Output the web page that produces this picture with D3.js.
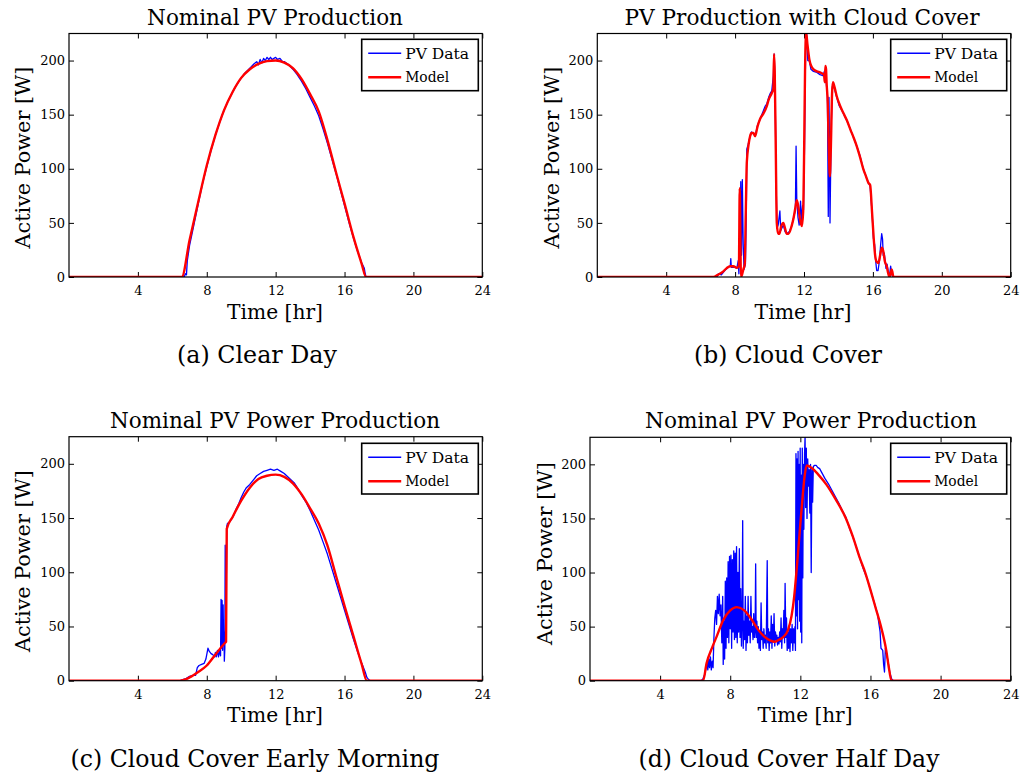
<!DOCTYPE html>
<html><head><meta charset="utf-8">
<script src="https://cdn.jsdelivr.net/npm/d3@7"></script>
<style>
body{margin:0;background:#fff}
svg{display:block}
text{font-family:"DejaVu Serif","Liberation Serif",serif;fill:#000}
</style></head>
<body><svg id="chart" width="1021" height="774"></svg>
<script>
// ---------- data ----------
const xTicks = [4, 8, 12, 16, 20, 24];
const yTicks = [0, 50, 100, 150, 200];
const xDomain = [0, 24];
const yDomain = [0, 225];
const legendLabels = ["PV Data", "Model"];
const titles = ["Nominal PV Production", "PV Production with Cloud Cover", "Nominal PV Power Production", "Nominal PV Power Production"];
const captions = ["(a) Clear Day", "(b) Cloud Cover", "(c) Cloud Cover Early Morning", "(d) Cloud Cover Half Day"];
const xLabel = "Time [hr]";
const yLabel = "Active Power [W]";

// [hour, watts]
const clearDayData = [[0,0],[6.7,0],[6.75,3],[6.82,2],[6.87,15],[7.0,29],[7.25,48],[7.5,67],[7.75,86],[8.0,102],[8.25,117],[8.5,131],[8.75,143],[9.0,154],[9.25,163],[9.5,171],[9.75,178],[10.0,184],[10.25,189],[10.5,193],[10.75,197],[10.9,199],[11.0,196],[11.1,201],[11.2,198],[11.3,202],[11.4,200],[11.5,203],[11.6,201],[11.7,203],[11.8,201],[11.9,202],[12.0,203],[12.1,201],[12.25,202],[12.4,199],[12.5,199],[12.75,196],[13.0,192],[13.25,187],[13.5,181],[13.75,174],[14.0,166],[14.25,158],[14.5,149],[14.75,137],[15.0,124],[15.25,110],[15.5,96],[15.75,81],[16.0,66],[16.25,51],[16.5,37],[16.75,24],[17.0,13],[17.15,8],[17.2,3],[17.25,0],[24,0]];
const clearDayModel = [[0,0],[6.55,0],[7.0,34],[7.5,69],[8.0,103],[8.5,131],[9.0,154],[9.5,171],[10.0,184],[10.5,192],[11.0,197],[11.5,199.5],[12.0,200],[12.5,198],[13.0,193],[13.5,183],[14.0,169],[14.5,153],[15.0,127],[15.5,97],[16.0,68],[16.5,38],[17.0,12],[17.25,0],[24,0]];

const cloudCoverData = [[0,0],[6.95,0],[7.03,3],[7.2,2],[7.4,6],[7.6,9],[7.72,10],[7.75,17],[7.78,9],[8.0,9],[8.1,8],[8.18,15],[8.22,3],[8.28,40],[8.33,88],[8.37,20],[8.42,90],[8.47,30],[8.52,7],[8.6,12],[8.65,60],[8.68,118],[8.75,122],[8.87,130],[8.95,134],[9.06,133],[9.16,130],[9.3,140],[9.45,146],[9.6,152],[9.75,158],[9.84,160],[9.95,166],[10.05,170],[10.13,172],[10.22,186],[10.27,206],[10.32,175],[10.38,90],[10.43,45],[10.5,48],[10.6,61],[10.65,43],[10.8,48],[10.9,42],[11.0,40],[11.15,42],[11.28,47],[11.4,55],[11.5,62],[11.54,121],[11.58,72],[11.65,55],[11.72,48],[11.8,70],[11.85,52],[11.92,66],[11.97,62],[12.03,120],[12.1,220],[12.15,226],[12.22,200],[12.31,200],[12.4,192],[12.55,190],[12.75,189],[12.93,187],[13.1,186],[13.18,190],[13.25,189],[13.3,178],[13.36,168],[13.41,56],[13.45,166],[13.48,120],[13.51,50],[13.58,140],[13.65,176],[13.72,178],[13.8,172],[13.9,166],[14.05,158],[14.2,154],[14.35,149],[14.48,145],[14.7,136],[14.9,128],[15.06,121],[15.25,112],[15.44,100],[15.6,93],[15.74,87],[15.84,84],[15.95,60],[16.03,36],[16.1,30],[16.16,15],[16.22,6],[16.3,6],[16.38,15],[16.45,30],[16.51,40],[16.56,35],[16.6,20],[16.66,22],[16.71,15],[16.76,8],[16.82,12],[16.9,4],[16.97,2],[17.03,10],[17.09,3],[17.15,0],[24,0]];
const cloudCoverModel = [[0,0],[6.74,0],[7.0,2],[7.3,5],[7.5,8],[7.71,10],[7.9,10],[8.1,8.5],[8.22,10],[8.27,82],[8.31,30],[8.34,0],[8.4,2],[8.48,7],[8.56,12],[8.62,60],[8.68,106],[8.78,122],[8.87,130],[8.95,133],[9.06,133],[9.16,130],[9.3,139],[9.45,146],[9.64,151],[9.84,158],[9.95,164],[10.13,170],[10.22,174],[10.26,206],[10.3,190],[10.36,120],[10.42,50],[10.5,40],[10.57,40],[10.68,47],[10.8,50],[10.9,45],[10.99,40],[11.1,40],[11.28,47],[11.4,55],[11.5,64],[11.58,71],[11.67,65],[11.77,53],[11.87,47],[11.95,60],[12.0,106],[12.06,190],[12.12,226],[12.2,215],[12.31,201],[12.45,194],[12.55,192],[12.75,190],[12.93,189],[13.16,187],[13.21,180],[13.24,195],[13.28,192],[13.31,180],[13.38,160],[13.44,120],[13.5,93],[13.56,120],[13.63,170],[13.68,180],[13.78,175],[13.9,167],[14.1,158],[14.3,151],[14.48,145],[14.7,136],[14.9,128],[15.06,121],[15.25,111],[15.44,100],[15.6,93],[15.74,87],[15.84,85],[15.95,60],[16.05,35],[16.13,20],[16.22,14],[16.32,13],[16.42,20],[16.52,27],[16.6,24],[16.7,14],[16.8,10],[16.88,4],[16.96,0],[17.03,3],[17.09,7],[17.14,4],[17.19,0],[24,0]];

const earlyMorningData = [[0,0],[6.45,0],[6.6,1],[6.8,2],[7.0,4],[7.2,5],[7.35,5],[7.45,12],[7.55,14],[7.7,15],[7.85,16],[7.95,20],[8.07,30],[8.15,27],[8.25,25],[8.35,24],[8.45,22],[8.5,26],[8.55,22],[8.62,28],[8.68,22],[8.75,28],[8.8,23],[8.83,75],[8.86,30],[8.89,74],[8.92,28],[8.95,70],[8.98,35],[9.0,45],[9.02,18],[9.05,30],[9.07,125],[9.1,55],[9.13,80],[9.16,142],[9.2,145],[9.3,146],[9.4,148],[9.55,152],[9.7,158],[9.85,163],[10.0,169],[10.15,174],[10.3,178],[10.5,181],[10.7,185],[10.9,189],[11.1,191],[11.3,193],[11.5,194],[11.7,195],[11.9,194],[12.1,195],[12.3,193],[12.5,191],[12.7,188],[12.9,185],[13.1,182],[13.3,177],[13.5,171],[13.75,165],[14.0,157],[14.25,148],[14.5,139],[14.75,128],[15.0,117],[15.25,104],[15.5,91],[15.75,78],[16.0,65],[16.25,52],[16.5,39],[16.75,27],[17.0,16],[17.2,8],[17.3,3],[17.4,1],[17.5,0],[24,0]];
const earlyMorningModel = [[0,0],[6.45,0],[7.0,3],[7.5,8],[8.0,14],[8.5,24],[9.06,35],[9.12,36],[9.16,140],[9.5,151],[10.0,166],[10.5,178],[11.0,186],[11.5,189],[12.0,190],[12.5,188],[13.0,182],[13.5,172],[14.0,159],[14.5,145],[15.0,125],[15.5,97],[16.0,69],[16.5,42],[17.0,15],[17.3,0],[24,0]];

const halfDayData = [[0,0],[6.35,0],[6.45,2],[6.55,6],[6.62,12],[6.68,18],[6.72,10],[6.78,20],[6.82,12],[6.87,22],[6.92,10],[6.97,18],[7.02,12],[7.07,40],[7.12,58],[7.17,65],[7.22,52],[7.27,78],[7.32,62],[7.37,80],[7.42,60],[7.47,70],[7.52,35],[7.57,78],[7.6,15],[7.64,55],[7.68,20],[7.72,92],[7.76,30],[7.8,95],[7.84,40],[7.88,110],[7.92,35],[7.96,115],[8.0,48],[8.04,116],[8.08,30],[8.12,112],[8.16,45],[8.2,120],[8.24,38],[8.28,118],[8.32,40],[8.36,124],[8.4,35],[8.44,100],[8.48,45],[8.52,122],[8.56,40],[8.6,85],[8.64,32],[8.68,60],[8.71,148],[8.74,30],[8.78,55],[8.82,38],[8.86,78],[8.9,28],[8.94,60],[8.98,35],[9.02,78],[9.06,42],[9.1,55],[9.14,35],[9.18,78],[9.22,45],[9.26,50],[9.3,38],[9.34,62],[9.38,40],[9.42,48],[9.45,108],[9.48,40],[9.52,55],[9.56,35],[9.6,50],[9.64,30],[9.68,45],[9.72,28],[9.76,72],[9.8,38],[9.84,45],[9.88,30],[9.92,48],[9.96,35],[10.0,42],[10.05,30],[10.11,111],[10.14,35],[10.18,48],[10.22,28],[10.26,45],[10.3,35],[10.34,60],[10.38,30],[10.42,52],[10.46,36],[10.5,62],[10.54,32],[10.58,45],[10.62,38],[10.66,42],[10.7,33],[10.74,40],[10.78,34],[10.82,45],[10.86,36],[10.9,58],[10.94,30],[10.98,48],[11.02,40],[11.06,65],[11.1,35],[11.13,90],[11.17,40],[11.21,58],[11.25,28],[11.29,45],[11.33,30],[11.37,50],[11.41,27],[11.45,48],[11.49,35],[11.53,52],[11.57,28],[11.61,48],[11.65,35],[11.69,50],[11.72,28],[11.75,210],[11.78,60],[11.81,205],[11.84,48],[11.87,212],[11.9,75],[11.93,200],[11.96,55],[11.99,215],[12.02,45],[12.05,190],[12.08,35],[12.11,215],[12.14,95],[12.17,200],[12.2,140],[12.24,210],[12.27,226],[12.3,160],[12.34,215],[12.38,150],[12.42,205],[12.46,180],[12.5,195],[12.54,155],[12.58,200],[12.62,100],[12.66,195],[12.7,165],[12.74,198],[12.8,199],[12.9,199],[13.0,197],[13.1,196],[13.2,193],[13.4,187],[13.6,182],[13.8,176],[14.0,170],[14.2,164],[14.4,157],[14.6,151],[14.8,141],[15.0,133],[15.2,123],[15.4,113],[15.6,103],[15.8,95],[16.0,84],[16.2,73],[16.4,62],[16.55,45],[16.6,30],[16.7,28],[16.75,15],[16.8,8],[16.85,30],[16.9,26],[17.0,18],[17.1,8],[17.2,2],[17.3,0],[24,0]];
const halfDayModel = [[0,0],[6.45,0],[6.65,16],[7.0,32],[7.23,41],[7.6,56],[8.0,65],[8.37,68],[8.8,65],[9.2,57],[9.6,47],[10.0,40],[10.3,37],[10.55,36],[10.8,38],[11.0,40],[11.3,47],[11.5,60],[11.65,78],[11.8,105],[12.0,145],[12.13,170],[12.25,190],[12.36,199],[12.7,196],[13.0,191],[13.5,181],[14.0,168],[14.6,150],[15.0,133],[15.4,113],[15.7,100],[16.0,84],[16.3,67],[16.6,50],[16.9,28],[17.05,12],[17.2,0],[24,0]];

// ---------- layout ----------
const panels = [
  {data: clearDayData, model: clearDayModel, title: titles[0], caption: captions[0],
   box: [69, 33.5, 482.3, 277], titleXY: [275, 25], titleW: 256, xlabXY: [275, 319], xlabW: 96,
   ylabXY: [23, 157.5], ylabW: 182, capXY: [257, 363], capW: 160, legend: [361.7, 39.3, 116.6, 51.4]},
  {data: cloudCoverData, model: cloudCoverModel, title: titles[1], caption: captions[1],
   box: [597.3, 33.5, 1010.7, 277], titleXY: [802, 25], titleW: 355, xlabXY: [803, 319], xlabW: 97,
   ylabXY: [551.7, 157.5], ylabW: 182, capXY: [788, 363], capW: 188, legend: [890.7, 39.3, 116, 51.4]},
  {data: earlyMorningData, model: earlyMorningModel, title: titles[2], caption: captions[2],
   box: [69, 436.7, 482.3, 680.7], titleXY: [275, 428], titleW: 330, xlabXY: [275, 722], xlabW: 96,
   ylabXY: [23, 561], ylabW: 182, capXY: [255, 767], capW: 369, legend: [361.7, 443.3, 116.6, 50.7]},
  {data: halfDayData, model: halfDayModel, title: titles[3], caption: captions[3],
   box: [590, 437.3, 1010.7, 680.7], titleXY: [811, 428], titleW: 332, xlabXY: [805, 722], xlabW: 95,
   ylabXY: [545, 553.5], ylabW: 183, capXY: [789, 767], capW: 301, legend: [890.7, 443.3, 116, 50.7]}
];

const svg = d3.select("#chart");

function fitText(sel, w) {
  const L = sel.node().getComputedTextLength();
  const fs = parseFloat(sel.attr("font-size"));
  sel.attr("font-size", (fs * w / L).toFixed(2));
  return sel;
}

panels.forEach((p, i) => {
  const [x0, y0, x1, y1] = p.box;
  const x = d3.scaleLinear().domain(xDomain).range([x0, x1]);
  const y = d3.scaleLinear().domain(yDomain).range([y1, y0]);
  const g = svg.append("g");

  const clipId = "clip" + i;
  svg.append("clipPath").attr("id", clipId)
    .append("rect").attr("x", x0).attr("y", y0).attr("width", x1 - x0).attr("height", y1 - y0);

  const ax = (axis, tr) => {
    const a = g.append("g").attr("transform", tr).call(axis);
    a.select(".domain").remove();
    a.selectAll("line").attr("stroke", "#000").attr("stroke-width", 1);
    a.selectAll("text").attr("font-size", 13).attr("fill", "#000");
    return a;
  };
  ax(d3.axisBottom(x).tickValues(xTicks).tickSizeInner(-5).tickSizeOuter(0).tickPadding(9), `translate(0,${y1})`);
  ax(d3.axisTop(x).tickValues(xTicks).tickSizeInner(-5).tickSizeOuter(0).tickFormat(""), `translate(0,${y0})`);
  ax(d3.axisLeft(y).tickValues(yTicks).tickSizeInner(-5).tickSizeOuter(0).tickPadding(4), `translate(${x0},0)`);
  ax(d3.axisRight(y).tickValues(yTicks).tickSizeInner(-5).tickSizeOuter(0).tickFormat(""), `translate(${x1},0)`);

  const lg = g.append("g").attr("clip-path", `url(#${clipId})`);
  lg.append("path").attr("d", d3.line().x(d => x(d[0])).y(d => y(d[1])).curve(d3.curveLinear)(p.data))
    .attr("fill", "none").attr("stroke", "#0000ff").attr("stroke-width", 1.3).attr("stroke-linejoin", "round");
  lg.append("path").attr("d", d3.line().x(d => x(d[0])).y(d => y(d[1])).curve(d3.curveMonotoneX)(p.model))
    .attr("fill", "none").attr("stroke", "#ff0000").attr("stroke-width", 2.4).attr("stroke-linejoin", "round");

  g.append("rect").attr("x", x0).attr("y", y0).attr("width", x1 - x0).attr("height", y1 - y0)
    .attr("fill", "none").attr("stroke", "#000").attr("stroke-width", 1.2);

  const [lx, ly, lw, lh] = p.legend;
  const leg = g.append("g");
  leg.append("rect").attr("x", lx).attr("y", ly).attr("width", lw).attr("height", lh)
    .attr("fill", "#fff").attr("stroke", "#000").attr("stroke-width", 1.6);
  const colors = ["#0000ff", "#ff0000"];
  const widths = [1.4, 2.4];
  const textW = [64, 44];
  legendLabels.forEach((lab, k) => {
    const yy = ly + 14 + k * 24;
    leg.append("line").attr("x1", lx + 6.5).attr("x2", lx + 39.5).attr("y1", yy).attr("y2", yy)
      .attr("stroke", colors[k]).attr("stroke-width", widths[k]);
    const t = leg.append("text").attr("x", lx + 43.5).attr("y", yy).attr("dy", "0.35em")
      .attr("font-size", 14).text(lab);
    fitText(t, textW[k]);
  });

  fitText(svg.append("text").attr("x", p.titleXY[0]).attr("y", p.titleXY[1]).attr("text-anchor", "middle")
    .attr("font-size", 20).text(p.title), p.titleW);
  fitText(svg.append("text").attr("x", p.xlabXY[0]).attr("y", p.xlabXY[1]).attr("text-anchor", "middle")
    .attr("font-size", 20).text(xLabel), p.xlabW);
  fitText(svg.append("text").attr("transform", `translate(${p.ylabXY[0]},${p.ylabXY[1]}) rotate(-90)`)
    .attr("text-anchor", "middle").attr("dy", "0.35em").attr("font-size", 20).text(yLabel), p.ylabW);
  fitText(svg.append("text").attr("x", p.capXY[0]).attr("y", p.capXY[1]).attr("text-anchor", "middle")
    .attr("font-size", 20).text(p.caption), p.capW);
});
</script>
</body></html>
